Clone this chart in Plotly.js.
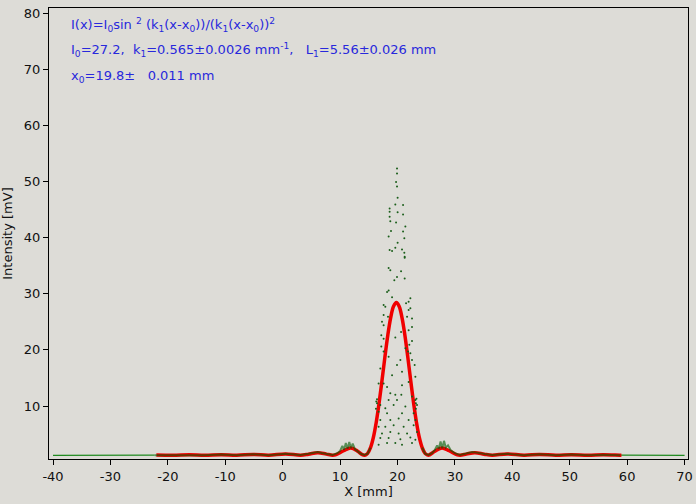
<!DOCTYPE html>
<html>
<head>
<meta charset="utf-8">
<script src="https://cdn.plot.ly/plotly-3.0.1.min.js"></script>
<style>html,body{margin:0;padding:0;background:#dddcd7;}#chart{width:696px;height:504px;}</style>
</head>
<body>
<div id="chart"></div>
<script>
// Fit curve
const fitX = [-22.0,-19.12,-16.25,-13.56,-10.68,-8.00,-5.10,-2.44,0.50,3.12,4.5,6.13,7.6,8.68,9.18,10.60,11.85,13.07,13.78,
  14.3,14.8,15.3,15.8,16.3,16.8,17.3,17.8,18.3,18.8,19.3,19.8,20.3,20.8,21.3,21.8,22.3,22.8,23.3,23.8,24.3,24.8,25.36,
  26.53,27.75,29.00,30.42,30.92,32.0,33.47,35.1,36.48,39.10,42.04,44.70,47.60,50.28,53.16,55.85,58.72,59.0];
const fitY = [1.30,1.25,1.32,1.25,1.34,1.25,1.39,1.25,1.48,1.25,1.43,1.70,1.44,1.25,1.31,2.035,2.53,1.955,1.40,
  1.25,1.58,2.59,4.42,7.12,10.57,14.54,18.67,22.53,25.67,27.73,28.45,27.73,25.67,22.53,18.67,14.54,10.57,7.12,4.42,2.59,1.58,1.25,
  1.955,2.53,2.035,1.31,1.25,1.44,1.70,1.43,1.25,1.48,1.25,1.39,1.25,1.34,1.25,1.32,1.25,1.25];

// Measured data, line part outside the fit range
const outX = [-40,-35,-30,-25,-22.3,null,58.8,60,65,70];
const outY = [1.22,1.22,1.23,1.22,1.25,null,1.25,1.24,1.23,1.22];

// Measured data, line part inside the fit range
const measX = [-22.3,-19.1,-16.3,-13.6,-10.7,-8.0,-5.1,-2.4,0.5,3.1,4.5,5.5,6.1,6.8,7.8,8.7,9.5,10.0,10.4,10.7,11.0,11.3,11.6,11.9,12.2,12.6,13.0,13.6,14.2,14.8,15.3,
  null,24.3,24.8,25.4,26.0,26.5,26.9,27.2,27.5,27.8,28.1,28.4,28.8,29.3,30.0,30.9,32.0,33.0,33.5,34.2,35.2,36.5,38.0,39.1,40.5,42.0,44.7,47.6,50.3,53.2,55.9,58.8];
const measY = [1.25,1.24,1.33,1.25,1.38,1.24,1.42,1.26,1.5,1.28,1.5,1.75,1.8,1.65,1.4,1.3,1.6,2.0,2.9,2.2,3.4,2.4,3.6,2.5,3.3,2.3,2.0,1.5,1.3,1.5,2.6,
  null,2.6,1.5,1.3,1.6,2.2,3.0,2.4,3.7,2.5,3.8,2.6,3.0,2.1,1.6,1.3,1.5,1.8,1.75,1.6,1.45,1.28,1.4,1.5,1.35,1.25,1.42,1.25,1.38,1.25,1.33,1.25];

// Measured data, scattered points in the central maximum
const dotX = [19.92,19.92,19.75,19.92,20.02,19.62,20.97,18.63,18.63,20.02,20.97,18.63,18.75,19.75,21.37,20.97,18.87,18.46,21.19,20.02,19.62,18.63,19.05,20.79,21.19,21.25,
  21.25,18.46,18.75,20.62,19.92,19.45,21.25,18.46,18.18,19.05,22.24,21.94,21.49,17.58,17.88,22.24,21.94,17.58,18.35,21.67,22.53,17.30,17.58,22.53,21.94,17.18,17.58,19.62,20.62,22.53,22.06,17.18,17.58,21.37,21.84,22.24,
  18.46,20.50,19.92,22.99,22.53,17.01,19.05,20.79,23.11,21.94,16.71,17.58,18.18,20.79,18.75,19.62,20.67,22.53,23.11,16.43,16.43,17.01,18.46,19.92,17.88,19.33,21.37,23.40,16.71,18.18,20.79,22.81,
  17.01,18.75,20.20,21.94,23.11,16.71,17.88,19.33,21.07,22.81,17.30,18.75,20.20,21.67,23.40,17.01,18.46,20.50,22.24,23.11,16.71,18.18,19.62,20.79,22.53,
  16.25,16.30,23.20,23.30,23.20];
const dotY = [52.3,51.4,49.9,49.1,47.1,45.9,45.8,45.2,44.6,44.5,44.1,43.7,42.9,42.7,42.0,41.1,41.2,40.2,39.9,39.1,38.2,37.8,37.6,37.9,37.3,36.6,
  36.4,34.6,34.2,34.0,33.0,32.4,32.7,30.6,30.3,29.4,29.2,28.6,28.3,28.0,27.7,27.4,27.1,26.2,25.9,25.9,25.6,25.0,24.4,24.1,23.5,22.6,22.0,22.2,23.2,21.6,20.9,20.6,19.7,20.3,19.7,19.4,
  18.8,18.2,17.3,17.3,18.2,16.7,15.5,16.1,15.2,14.3,14.0,14.0,13.4,13.7,12.3,12.0,12.0,11.7,11.1,11.2,10.5,10.2,11.1,11.1,9.6,10.2,9.9,10.2,9.0,8.7,8.7,8.7,
  7.5,7.5,7.8,7.5,7.5,6.3,6.3,6.6,6.3,6.6,5.1,5.4,5.1,5.1,5.4,4.3,4.3,4.1,4.4,4.0,3.1,3.4,3.4,3.1,3.4,
  9.5,10.8,9.5,11.3,10.5];

const xTicks = [-40,-30,-20,-10,0,10,20,30,40,50,60,70];
const yTicks = [10,20,30,40,50,60,70,80];

const bg = '#dddcd7';
const traces = [
  {x: outX, y: outY, type: 'scatter', mode: 'lines', line: {color: '#1f8a1f', width: 1.2}, hoverinfo: 'skip'},
  {x: fitX, y: fitY, type: 'scatter', mode: 'lines', line: {color: '#f00000', width: 3.5, shape: 'spline', smoothing: 1}, hoverinfo: 'skip'},
  {x: measX, y: measY, type: 'scatter', mode: 'lines', line: {color: '#005a00', width: 2}, opacity: 0.6, hoverinfo: 'skip'},
  {x: dotX, y: dotY, type: 'scatter', mode: 'markers', marker: {color: '#1a5e1a', size: 2}, hoverinfo: 'skip'}
];

const f = 'DejaVu Sans, sans-serif';
const blue = '#2828dc';
const layout = {
  width: 696, height: 504,
  paper_bgcolor: bg, plot_bgcolor: bg,
  showlegend: false,
  margin: {l: 49, r: 8, t: 8, b: 45},
  font: {family: f, size: 13, color: '#111'},
  xaxis: {
    range: [-40.7, 70.6], tickvals: xTicks, ticktext: xTicks.map(String),
    showgrid: false, zeroline: false, showline: true, linecolor: '#000', linewidth: 1, mirror: true,
    ticks: 'outside', ticklen: 5, tickcolor: '#000',
    tickfont: {family: f, size: 13, color: '#111'},
    title: {text: 'X [mm]', font: {family: f, size: 13, color: '#111'}, standoff: 4}
  },
  yaxis: {
    range: [0.57, 80.9], tickvals: yTicks, ticktext: yTicks.map(String),
    showgrid: false, zeroline: false, showline: true, linecolor: '#000', linewidth: 1, mirror: true,
    ticks: 'outside', ticklen: 5, tickcolor: '#000',
    tickfont: {family: f, size: 13, color: '#111'},
    title: {text: 'Intensity [mV]', font: {family: f, size: 13, color: '#111'}, standoff: 8}
  },
  annotations: [
    {xref: 'paper', yref: 'paper', x: 0.031, y: 0.962, xanchor: 'left', yanchor: 'middle', showarrow: false,
     text: 'I(x)=I<sub>0</sub>sin <sup>2</sup> (k<sub>1</sub>(x-x<sub>0</sub>))/(k<sub>1</sub>(x-x<sub>0</sub>))<sup>2</sup>',
     font: {family: f, size: 13, color: blue}},
    {xref: 'paper', yref: 'paper', x: 0.031, y: 0.906, xanchor: 'left', yanchor: 'middle', showarrow: false,
     text: 'I<sub>0</sub>=27.2,\u00a0 k<sub>1</sub>=0.565±0.0026 mm<sup>-1</sup>,\u00a0\u00a0 L<sub>1</sub>=5.56±0.026 mm',
     font: {family: f, size: 13, color: blue}},
    {xref: 'paper', yref: 'paper', x: 0.031, y: 0.848, xanchor: 'left', yanchor: 'middle', showarrow: false,
     text: 'x<sub>0</sub>=19.8±\u00a0\u00a0 0.011 mm',
     font: {family: f, size: 13, color: blue}}
  ]
};

Plotly.newPlot('chart', traces, layout, {displayModeBar: false, staticPlot: true});
</script>
</body>
</html>
